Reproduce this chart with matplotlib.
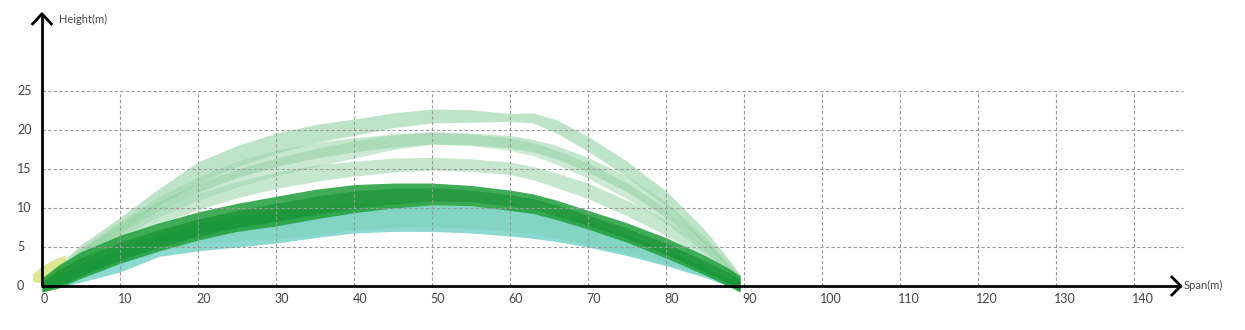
import matplotlib.pyplot as plt
import numpy as np

plt.rcParams['font.family'] = ['Lato', 'DejaVu Sans']

# stations along the span (m)
span = [0, 2, 5, 10, 15, 20, 25, 30, 35, 40, 45, 50, 55, 60, 63, 66, 70, 75, 80, 85, 88, 89.5]

# arch bands: upper / lower edge heights (m) at each station
top1_hi = [0.9, 2.6, 5.3, 8.8, 12.5, 15.9, 18.0, 19.6, 20.7, 21.4, 22.2, 22.7, 22.6, 22.1, 22.2, 21.3, 19.2, 16.0, 12.2, 7.2, 3.5, 1.5]
top1_lo = [0.3, 1.8, 4.0, 7.0, 10.3, 13.2, 15.3, 17.0, 18.4, 19.3, 20.3, 20.9, 21.0, 21.1, 20.9, 19.6, 17.3, 14.0, 10.2, 5.3, 2.3, 0.5]

top2_hi = [0.8, 2.3, 4.9, 8.3, 11.5, 14.0, 16.0, 17.4, 18.4, 19.0, 19.5, 19.8, 19.6, 19.3, 18.8, 18.0, 16.5, 14.1, 10.8, 6.3, 3.0, 1.3]
top2_lo = [0.2, 1.6, 3.8, 6.8, 9.7, 12.0, 13.9, 15.3, 16.4, 17.2, 17.8, 18.2, 18.1, 17.7, 17.2, 16.3, 14.6, 12.1, 8.8, 4.6, 1.8, 0.3]

top3_hi = [0.8, 2.2, 4.7, 7.9, 10.9, 13.2, 15.0, 16.4, 17.6, 18.6, 19.4, 19.7, 19.5, 19.0, 18.4, 17.4, 15.8, 13.2, 10.0, 5.8, 2.7, 1.2]
top3_lo = [0.2, 1.4, 3.4, 6.3, 8.9, 11.0, 12.7, 14.1, 15.3, 16.4, 17.5, 18.2, 18.0, 17.4, 16.7, 15.6, 13.8, 11.2, 8.0, 4.2, 1.6, 0.2]

mid_hi = [0.7, 2.1, 4.4, 7.5, 10.0, 11.9, 13.4, 14.6, 15.5, 16.0, 16.4, 16.5, 16.3, 15.9, 15.3, 14.5, 13.2, 11.0, 8.5, 5.0, 2.4, 1.0]
mid_lo = [0.1, 1.3, 3.2, 5.9, 8.0, 9.8, 11.3, 12.5, 13.4, 14.1, 14.6, 14.9, 14.7, 14.3, 13.6, 12.6, 11.2, 9.0, 6.5, 3.5, 1.3, 0.0]

pale_hi = [1.2, 2.5, 4.2, 6.0, 7.4, 8.5, 9.3, 9.9, 10.3, 10.6, 10.8, 10.8, 10.6, 10.2, 9.8, 9.2, 8.1, 6.5, 4.6, 2.4, 1.0, 0.3]
pale_lo = [0.2, 0.8, 1.9, 3.3, 4.5, 5.4, 5.8, 6.0, 6.6, 7.2, 7.5, 7.6, 7.4, 7.0, 6.7, 6.1, 5.4, 4.2, 2.9, 1.4, 0.3, -0.3]

teal_hi = [0.3, 1.3, 2.8, 4.8, 6.6, 8.0, 9.0, 9.6, 10.0, 10.2, 10.3, 10.4, 10.3, 10.0, 9.6, 9.0, 8.0, 6.5, 4.7, 2.5, 1.0, 0.2]
teal_lo = [-0.6, -0.2, 0.5, 1.8, 3.8, 4.5, 5.0, 5.5, 6.2, 6.8, 7.0, 7.0, 6.8, 6.4, 6.1, 5.7, 5.0, 3.9, 2.6, 1.1, 0.0, -0.5]

main_hi = [1.0, 2.6, 4.4, 6.5, 8.1, 9.5, 10.6, 11.5, 12.4, 13.0, 13.2, 13.2, 12.9, 12.3, 11.8, 11.0, 9.7, 8.1, 6.2, 3.9, 2.3, 1.3]
main_lo = [-0.8, -0.3, 1.0, 2.9, 4.5, 5.9, 7.0, 7.7, 8.6, 9.4, 10.0, 10.4, 10.3, 9.7, 9.3, 8.5, 7.3, 5.6, 3.6, 1.4, 0.0, -0.8]

core_hi = [0.5, 2.0, 3.6, 5.6, 7.2, 8.6, 9.7, 10.6, 11.5, 12.2, 12.5, 12.6, 12.3, 11.7, 11.2, 10.4, 9.1, 7.4, 5.5, 3.2, 1.7, 0.9]
core_lo = [-0.6, 0.0, 1.3, 3.3, 5.0, 6.4, 7.5, 8.3, 9.2, 10.0, 10.5, 10.9, 10.8, 10.2, 9.8, 9.0, 7.8, 6.1, 4.1, 1.8, 0.3, -0.6]

# small yellow-green root near the left support
root_x = [-1.2, 0, 1.5, 3]
root_hi = [1.6, 2.6, 3.4, 4.0]
root_lo = [0.6, 0.4, 0.9, 1.7]

x_ticks = list(range(0, 150, 10))
y_ticks = [0, 5, 10, 15, 20, 25]

fig = plt.figure(figsize=(12.45, 3.3), dpi=100)
ax = fig.add_axes([0, 0, 1, 1])
ax.set_xlim(-5.38, 154.23)
ax.set_ylim(-5.64, 36.67)
ax.axis('off')

# grid
for xv in x_ticks[1:]:
    ax.plot([xv, xv], [0, 25], color='#9a9a9a', lw=0.8, ls=(0, (3, 2)), zorder=5)
for yv in y_ticks[1:]:
    ax.plot([0, 146.3], [yv, yv], color='#9a9a9a', lw=0.8, ls=(0, (3, 2)), zorder=5)

# bands
ax.fill_between(span, top1_lo, top1_hi, color='#a9dcb6', alpha=0.75, lw=0, zorder=2)
ax.fill_between(span, top2_lo, top2_hi, color='#9fd8ad', alpha=0.6, lw=0, zorder=2)
ax.fill_between(span, top3_lo, top3_hi, color='#8fd09e', alpha=0.45, lw=0, zorder=2)
ax.fill_between(span, mid_lo, mid_hi, color='#9fd8ad', alpha=0.6, lw=0, zorder=2)
ax.fill_between(span, pale_lo, pale_hi, color='#b7df9a', alpha=0.6, lw=0, zorder=3)
ax.fill_between(span, teal_lo, teal_hi, color='#6fd0c4', alpha=0.8, lw=0, zorder=3)
ax.fill_between(root_x, root_lo, root_hi, color='#c4d63a', alpha=0.55, lw=0, zorder=3)
ax.fill_between(span, main_lo, main_hi, color='#1e9e3a', alpha=0.85, lw=0, zorder=4)
ax.fill_between(span, core_lo, core_hi, color='#0d8a2a', alpha=0.5, lw=0, zorder=4)

# axes with open arrow heads
ax.plot([-0.1, 146.0], [0, 0], color='black', lw=2, zorder=6, solid_capstyle='butt')
ax.plot([0, 0], [0, 34.9], color='black', lw=2, zorder=6, solid_capstyle='butt')
ax.plot([-1.2, 0, 1.2], [33.6, 34.9, 33.6], color='black', lw=2, zorder=6)
ax.plot([144.85, 146.0, 144.85], [1.15, 0, -1.15], color='black', lw=2, zorder=6)

# labels
for xv in x_ticks:
    ax.text(xv - 0.2, -0.9, str(xv), ha='left', va='top', fontsize=9, color='#444444')
for yv in y_ticks:
    ax.text(-3.2, yv, str(yv), ha='left', va='center', fontsize=9, color='#444444')
ax.text(2.2, 34.2, 'Height(m)', ha='left', va='center', fontsize=8, color='#444444')
ax.text(146.4, 0.1, 'Span(m)', ha='left', va='center', fontsize=8, color='#444444')

fig.savefig('out.png', dpi=100)
